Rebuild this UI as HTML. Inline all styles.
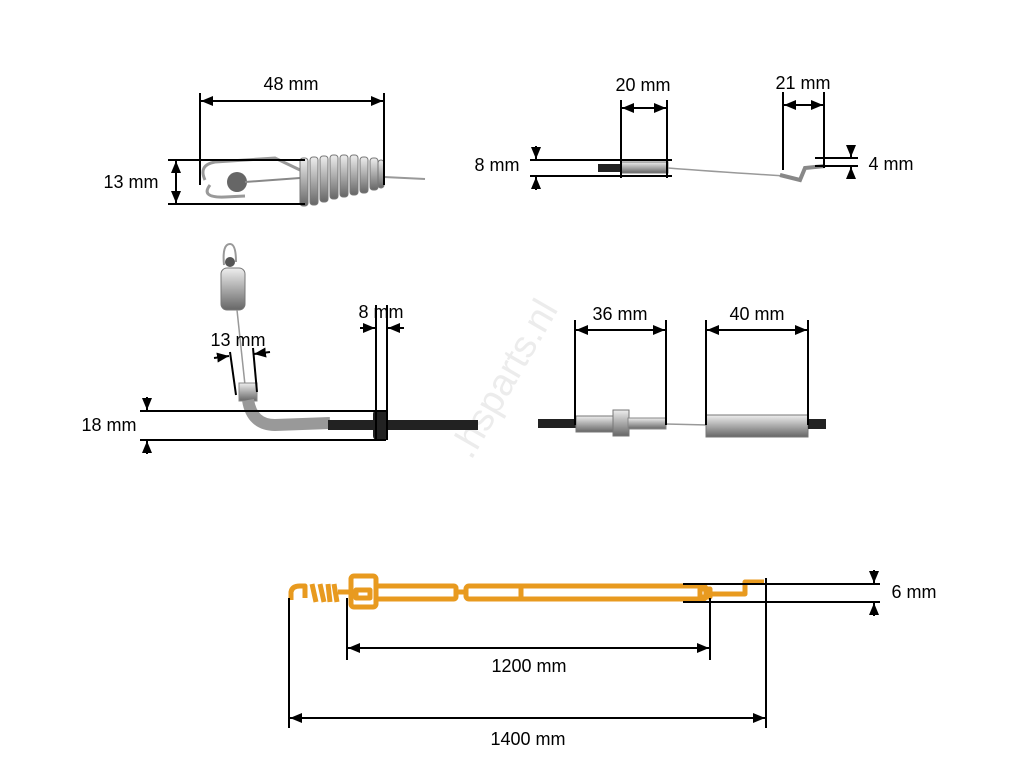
<!DOCTYPE html>
<html><head><meta charset="utf-8"><style>
html,body{margin:0;padding:0;background:#fff;}
svg{display:block;font-family:"Liberation Sans",sans-serif;}
</style></head><body>
<svg width="1024" height="768" viewBox="0 0 1024 768" xmlns="http://www.w3.org/2000/svg">
<defs>
<marker id="a" markerWidth="12" markerHeight="10" refX="12" refY="5" orient="auto-start-reverse" markerUnits="userSpaceOnUse"><path d="M0,0 L12,5 L0,10z" fill="#000"/></marker>
<linearGradient id="m" x1="0" y1="0" x2="0" y2="1"><stop offset="0" stop-color="#eee"/><stop offset=".5" stop-color="#aaa"/><stop offset="1" stop-color="#666"/></linearGradient>
</defs>
<text x="515" y="385" transform="rotate(-60 515 385)" font-size="38" fill="#ececec" text-anchor="middle">.hsparts.nl</text>

<!-- top-left part -->
<path d="M205,180 Q198,165 215,162 L275,158 L300,170" fill="none" stroke="#999" stroke-width="3"/>
<path d="M210,185 Q200,198 225,197 L245,196" fill="none" stroke="#999" stroke-width="3"/>
<circle cx="237" cy="182" r="10" fill="#666"/>
<line x1="245" y1="182" x2="300" y2="178" stroke="#888" stroke-width="2"/>
<g fill="url(#m)" stroke="#777" stroke-width="1">
<rect x="300" y="158" width="8" height="48" rx="3"/><rect x="310" y="157" width="8" height="48" rx="3"/><rect x="320" y="156" width="8" height="46" rx="3"/><rect x="330" y="155" width="8" height="44" rx="3"/><rect x="340" y="155" width="8" height="42" rx="3"/><rect x="350" y="155" width="8" height="40" rx="3"/><rect x="360" y="157" width="8" height="36" rx="3"/><rect x="370" y="158" width="8" height="32" rx="3"/><rect x="378" y="160" width="6" height="28" rx="3"/>
</g>
<line x1="384" y1="177" x2="425" y2="179" stroke="#999" stroke-width="2"/>
<g stroke="#000" stroke-width="2" fill="none">
<line x1="200" y1="93" x2="200" y2="185"/><line x1="384" y1="93" x2="384" y2="185"/>
<line x1="201" y1="101" x2="383" y2="101" marker-start="url(#a)" marker-end="url(#a)"/>
<line x1="168" y1="160" x2="305" y2="160"/><line x1="168" y1="204" x2="305" y2="204"/>
<line x1="176" y1="161" x2="176" y2="203" marker-start="url(#a)" marker-end="url(#a)"/>
</g>
<text x="291" y="90" font-size="18" text-anchor="middle">48 mm</text>
<text x="131" y="188" font-size="18" text-anchor="middle">13 mm</text>

<!-- top-right part -->
<rect x="598" y="164" width="25" height="8" fill="#222"/>
<rect x="621" y="162" width="47" height="11" fill="url(#m)" stroke="#777"/>
<path d="M668,168 Q720,172 785,176" fill="none" stroke="#999" stroke-width="1.5"/>
<path d="M780,175 L800,180 L805,168 L825,166" fill="none" stroke="#888" stroke-width="4"/>
<g stroke="#000" stroke-width="2" fill="none">
<line x1="621" y1="100" x2="621" y2="178"/><line x1="667" y1="100" x2="667" y2="178"/>
<line x1="622" y1="108" x2="666" y2="108" marker-start="url(#a)" marker-end="url(#a)"/>
<line x1="530" y1="160" x2="672" y2="160"/><line x1="530" y1="176" x2="672" y2="176"/>
<line x1="536" y1="146" x2="536" y2="159" marker-end="url(#a)"/><line x1="536" y1="190" x2="536" y2="177" marker-end="url(#a)"/>
<line x1="783" y1="92" x2="783" y2="170"/><line x1="824" y1="92" x2="824" y2="168"/>
<line x1="784" y1="105" x2="823" y2="105" marker-start="url(#a)" marker-end="url(#a)"/>
<line x1="815" y1="158" x2="858" y2="158"/><line x1="815" y1="166" x2="858" y2="166"/>
<line x1="851" y1="145" x2="851" y2="157" marker-end="url(#a)"/><line x1="851" y1="179" x2="851" y2="167" marker-end="url(#a)"/>
</g>
<text x="643" y="91" font-size="18" text-anchor="middle">20 mm</text>
<text x="497" y="171" font-size="18" text-anchor="middle">8 mm</text>
<text x="803" y="89" font-size="18" text-anchor="middle">21 mm</text>
<text x="891" y="170" font-size="18" text-anchor="middle">4 mm</text>

<!-- middle-left part -->
<path d="M224,265 Q222,244 230,244 Q236,244 236,262" fill="none" stroke="#999" stroke-width="2"/>
<circle cx="230" cy="262" r="5" fill="#555"/>
<rect x="221" y="268" width="24" height="42" rx="6" fill="url(#m)" stroke="#777"/>
<line x1="237" y1="310" x2="245" y2="385" stroke="#999" stroke-width="1.5"/>
<rect x="239" y="383" width="18" height="18" fill="url(#m)" stroke="#888"/>
<path d="M248,400 Q252,425 275,425 L330,423" fill="none" stroke="#999" stroke-width="12"/>
<rect x="328" y="420" width="150" height="10" fill="#222"/>
<rect x="373" y="410" width="14" height="30" rx="4" fill="#222"/>
<g stroke="#000" stroke-width="2" fill="none">
<line x1="140" y1="411" x2="386" y2="411"/><line x1="140" y1="440" x2="386" y2="440"/>
<line x1="147" y1="397" x2="147" y2="410" marker-end="url(#a)"/><line x1="147" y1="454" x2="147" y2="441" marker-end="url(#a)"/>
<line x1="376" y1="305" x2="376" y2="440"/><line x1="387" y1="305" x2="387" y2="440"/>
<line x1="360" y1="328" x2="375" y2="328" marker-end="url(#a)"/><line x1="404" y1="328" x2="388" y2="328" marker-end="url(#a)"/>
<line x1="230" y1="352" x2="236" y2="395"/><line x1="253" y1="348" x2="257" y2="392"/>
<line x1="214" y1="358" x2="229" y2="356" marker-end="url(#a)"/><line x1="270" y1="352" x2="254" y2="354" marker-end="url(#a)"/>
</g>
<text x="238" y="346" font-size="18" text-anchor="middle">13 mm</text>
<text x="381" y="318" font-size="18" text-anchor="middle">8 mm</text>
<text x="109" y="431" font-size="18" text-anchor="middle">18 mm</text>

<!-- middle-right part -->
<rect x="538" y="419" width="40" height="9" fill="#222"/>
<rect x="576" y="416" width="40" height="16" fill="url(#m)" stroke="#777"/>
<rect x="613" y="410" width="16" height="26" fill="url(#m)" stroke="#777"/>
<rect x="628" y="418" width="38" height="11" fill="url(#m)" stroke="#888"/>
<line x1="666" y1="424" x2="708" y2="425" stroke="#999" stroke-width="1.5"/>
<rect x="706" y="415" width="102" height="22" fill="url(#m)" stroke="#777"/>
<rect x="808" y="419" width="18" height="10" fill="#222"/>
<g stroke="#000" stroke-width="2" fill="none">
<line x1="575" y1="320" x2="575" y2="425"/><line x1="666" y1="320" x2="666" y2="425"/>
<line x1="576" y1="330" x2="665" y2="330" marker-start="url(#a)" marker-end="url(#a)"/>
<line x1="706" y1="320" x2="706" y2="425"/><line x1="808" y1="320" x2="808" y2="425"/>
<line x1="707" y1="330" x2="807" y2="330" marker-start="url(#a)" marker-end="url(#a)"/>
</g>
<text x="620" y="320" font-size="18" text-anchor="middle">36 mm</text>
<text x="757" y="320" font-size="18" text-anchor="middle">40 mm</text>

<!-- bottom schematic -->
<g fill="none" stroke="#e89a1f" stroke-width="5" stroke-linejoin="round">
<path d="M291,600 L291,592 Q292,586 300,586 L305,586 L305,598"/>
<path d="M312,584 L316,602 M320,584 L324,602 M328,584 L330,602 M334,584 L337,602"/>
<line x1="338" y1="592" x2="350" y2="592"/>
<rect x="351" y="576" width="25" height="31" rx="3"/>
<rect x="356" y="590" width="14" height="8"/>
<rect x="376" y="586" width="80" height="13" rx="2"/>
<path d="M456,592 L465,592"/>
<rect x="466" y="586" width="240" height="13" rx="3"/>
<line x1="521" y1="587" x2="521" y2="598"/>
<rect x="700" y="589" width="10" height="8"/>
<path d="M710,594 L745,594 L745,582 L764,582"/>
</g>
<g stroke="#000" stroke-width="2" fill="none">
<line x1="683" y1="584" x2="880" y2="584"/><line x1="683" y1="602" x2="880" y2="602"/>
<line x1="874" y1="570" x2="874" y2="583" marker-end="url(#a)"/><line x1="874" y1="616" x2="874" y2="603" marker-end="url(#a)"/>
<line x1="347" y1="598" x2="347" y2="660"/><line x1="710" y1="598" x2="710" y2="660"/>
<line x1="348" y1="648" x2="709" y2="648" marker-start="url(#a)" marker-end="url(#a)"/>
<line x1="289" y1="598" x2="289" y2="728"/><line x1="766" y1="578" x2="766" y2="728"/>
<line x1="290" y1="718" x2="765" y2="718" marker-start="url(#a)" marker-end="url(#a)"/>
</g>
<text x="914" y="598" font-size="18" text-anchor="middle">6 mm</text>
<text x="529" y="672" font-size="18" text-anchor="middle">1200 mm</text>
<text x="528" y="745" font-size="18" text-anchor="middle">1400 mm</text>
</svg>
</body></html>
